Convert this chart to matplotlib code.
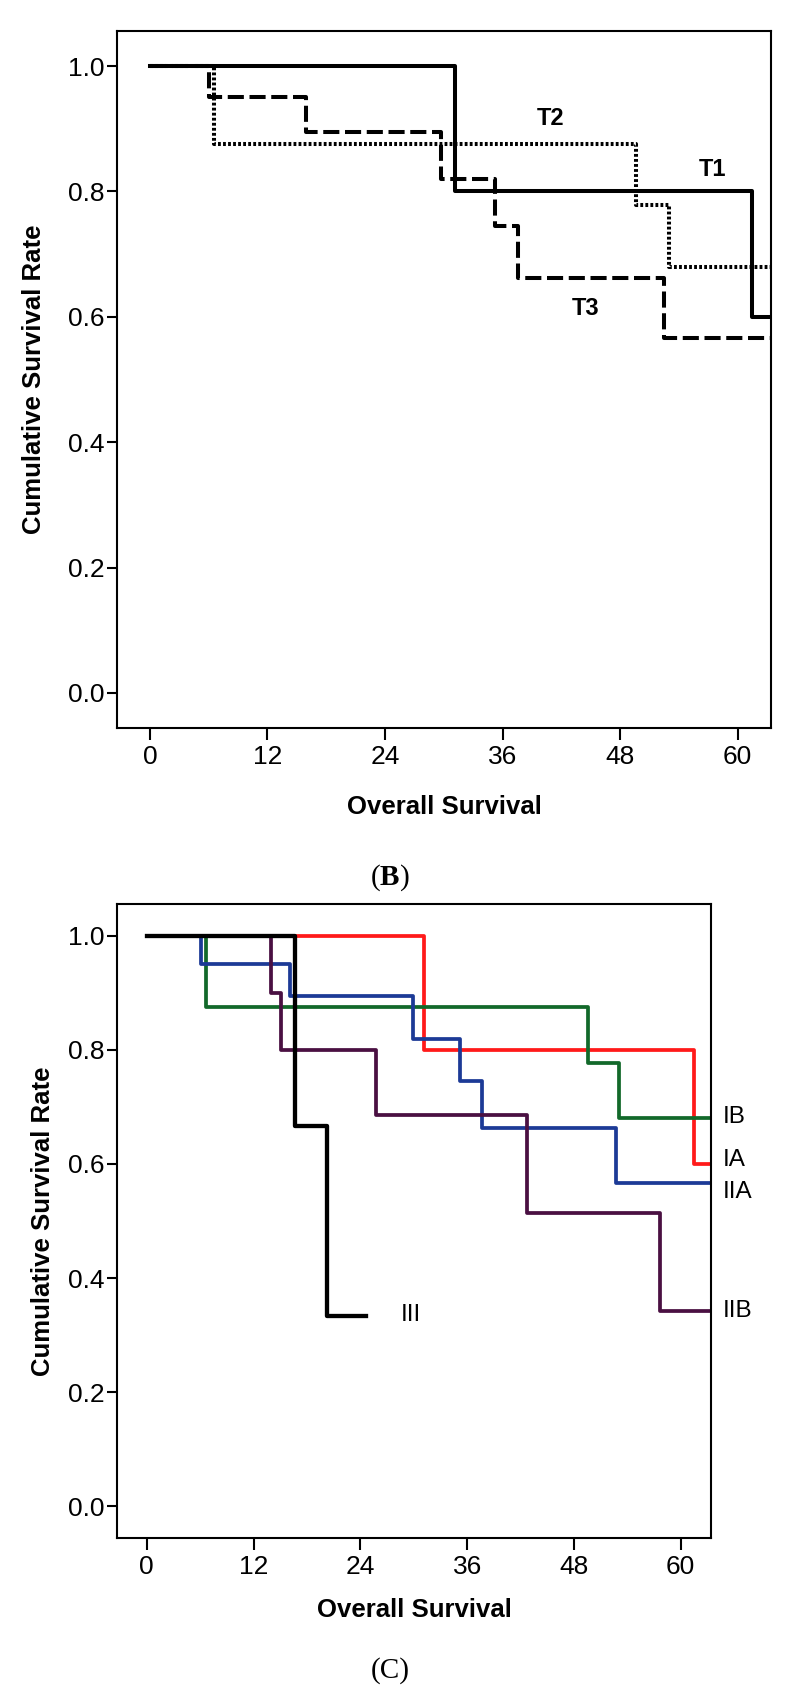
import matplotlib
matplotlib.use("Agg")
import matplotlib.pyplot as plt

plt.rcParams['mathtext.fontset'] = 'custom'
plt.rcParams['mathtext.rm'] = 'Liberation Serif'
plt.rcParams['mathtext.bf'] = 'Liberation Serif:bold'

# panel B: survival by T stage
t1_times = [0, 31.1, 61.5, 64]
t1_surv = [1.0, 0.8, 0.6, 0.6]
t2_times = [0, 6.6, 49.6, 53.0, 64]
t2_surv = [1.0, 0.875, 0.778, 0.68, 0.68]
t3_times = [0, 6.0, 15.9, 29.7, 35.2, 37.6, 52.5, 64]
t3_surv = [1.0, 0.95, 0.895, 0.82, 0.745, 0.662, 0.567, 0.567]

# panel C: survival by TNM stage
ia_times = [0, 31.2, 61.5, 64]
ia_surv = [1.0, 0.8, 0.6, 0.6]
ib_times = [0, 6.7, 49.6, 53.1, 64]
ib_surv = [1.0, 0.875, 0.778, 0.68, 0.68]
iia_times = [0, 6.1, 16.1, 29.9, 35.2, 37.7, 52.7, 64]
iia_surv = [1.0, 0.95, 0.895, 0.82, 0.745, 0.663, 0.567, 0.567]
iib_times = [0, 14.0, 15.1, 25.8, 42.7, 57.7, 64]
iib_surv = [1.0, 0.9, 0.8, 0.686, 0.514, 0.343, 0.343]
iii_times = [0, 16.6, 20.2, 24.6]
iii_surv = [1.0, 0.667, 0.333, 0.333]

x_ticks = [0, 12, 24, 36, 48, 60]
y_ticks = [0.0, 0.2, 0.4, 0.6, 0.8, 1.0]

W, H = 795, 1707
narrow = ['Liberation Sans Narrow', 'Liberation Sans', 'DejaVu Sans']
bold_font = ['Liberation Sans', 'DejaVu Sans']


def px_rect(left, top, right, bottom):
    return [left / W, 1 - bottom / H, (right - left) / W, (bottom - top) / H]


def style_axes(ax, ylabel_x):
    ax.set_xlim(-3.35, 63.4)
    ax.set_ylim(-0.056, 1.056)
    ax.set_xticks(x_ticks)
    ax.set_yticks(y_ticks)
    ax.set_yticklabels([f"{v:.1f}" for v in y_ticks])
    for s in ax.spines.values():
        s.set_linewidth(1.5)
    ax.tick_params(axis='x', direction='out', length=8.5, width=1.5, pad=4)
    ax.tick_params(axis='y', direction='out', length=7, width=1.5, pad=2)
    for lab in ax.get_xticklabels() + ax.get_yticklabels():
        lab.set_family(narrow)
        lab.set_fontsize(19)
    ax.set_xlabel('Overall Survival', fontsize=18.5, fontweight='bold', family=bold_font, va='center')
    ax.set_ylabel('Cumulative Survival Rate', fontsize=18.5, fontweight='bold', family=bold_font, va='center')
    ax.yaxis.set_label_coords(ylabel_x, 0.5)


fig = plt.figure(figsize=(W / 100, H / 100), dpi=100)

# ---- panel B ----
ax1 = fig.add_axes(px_rect(117, 31, 771, 728))
lw = 2.9
ax1.step(t1_times, t1_surv, where='post', color='black', lw=lw)
ax1.step(t2_times, t2_surv, where='post', color='black', lw=lw, linestyle=(0, (0.7, 0.55)))
ax1.step(t3_times, t3_surv, where='post', color='black', lw=lw, linestyle=(0, (4.0, 1.4)))
ax1.text(40.9, 0.916, 'T2', fontsize=17, fontweight='bold', family=narrow, ha='center', va='center')
ax1.text(57.4, 0.835, 'T1', fontsize=17, fontweight='bold', family=narrow, ha='center', va='center')
ax1.text(44.5, 0.613, 'T3', fontsize=17, fontweight='bold', family=narrow, ha='center', va='center')
style_axes(ax1, -0.127)
ax1.xaxis.set_label_coords(0.5, (728 - 807) / 697)

# ---- panel C ----
ax2 = fig.add_axes(px_rect(117, 904, 711, 1538))
lw2 = 2.7
ax2.step(ia_times, ia_surv, where='post', color='#ff1a1a', lw=lw2)
ax2.step(ib_times, ib_surv, where='post', color='#12692a', lw=lw2)
ax2.step(iia_times, iia_surv, where='post', color='#1c3a96', lw=lw2)
ax2.step(iib_times, iib_surv, where='post', color='#4a1042', lw=lw2)
ax2.step(iii_times, iii_surv, where='post', color='black', lw=lw2 + 0.4)
stage_labels = ['IB', 'IA', 'IIA', 'IIB', 'III']
label_x = [64.7, 64.7, 64.7, 64.7, 28.5]
label_y = [0.683, 0.607, 0.551, 0.343, 0.336]
for name, lx, ly in zip(stage_labels, label_x, label_y):
    ax2.text(lx, ly, name, fontsize=17.5, family=narrow, ha='left', va='center', clip_on=False)
style_axes(ax2, -0.124)
ax2.xaxis.set_label_coords(0.5, (1538 - 1610) / 634)

# captions
fig.text(390 / W, 1 - 878 / H, r'($\mathbf{B}$)', fontsize=21, family='Liberation Serif', ha='center', va='center')
fig.text(390 / W, 1 - 1671 / H, '(C)', fontsize=21, family='Liberation Serif', ha='center', va='center')

fig.savefig('out.png', dpi=100)
